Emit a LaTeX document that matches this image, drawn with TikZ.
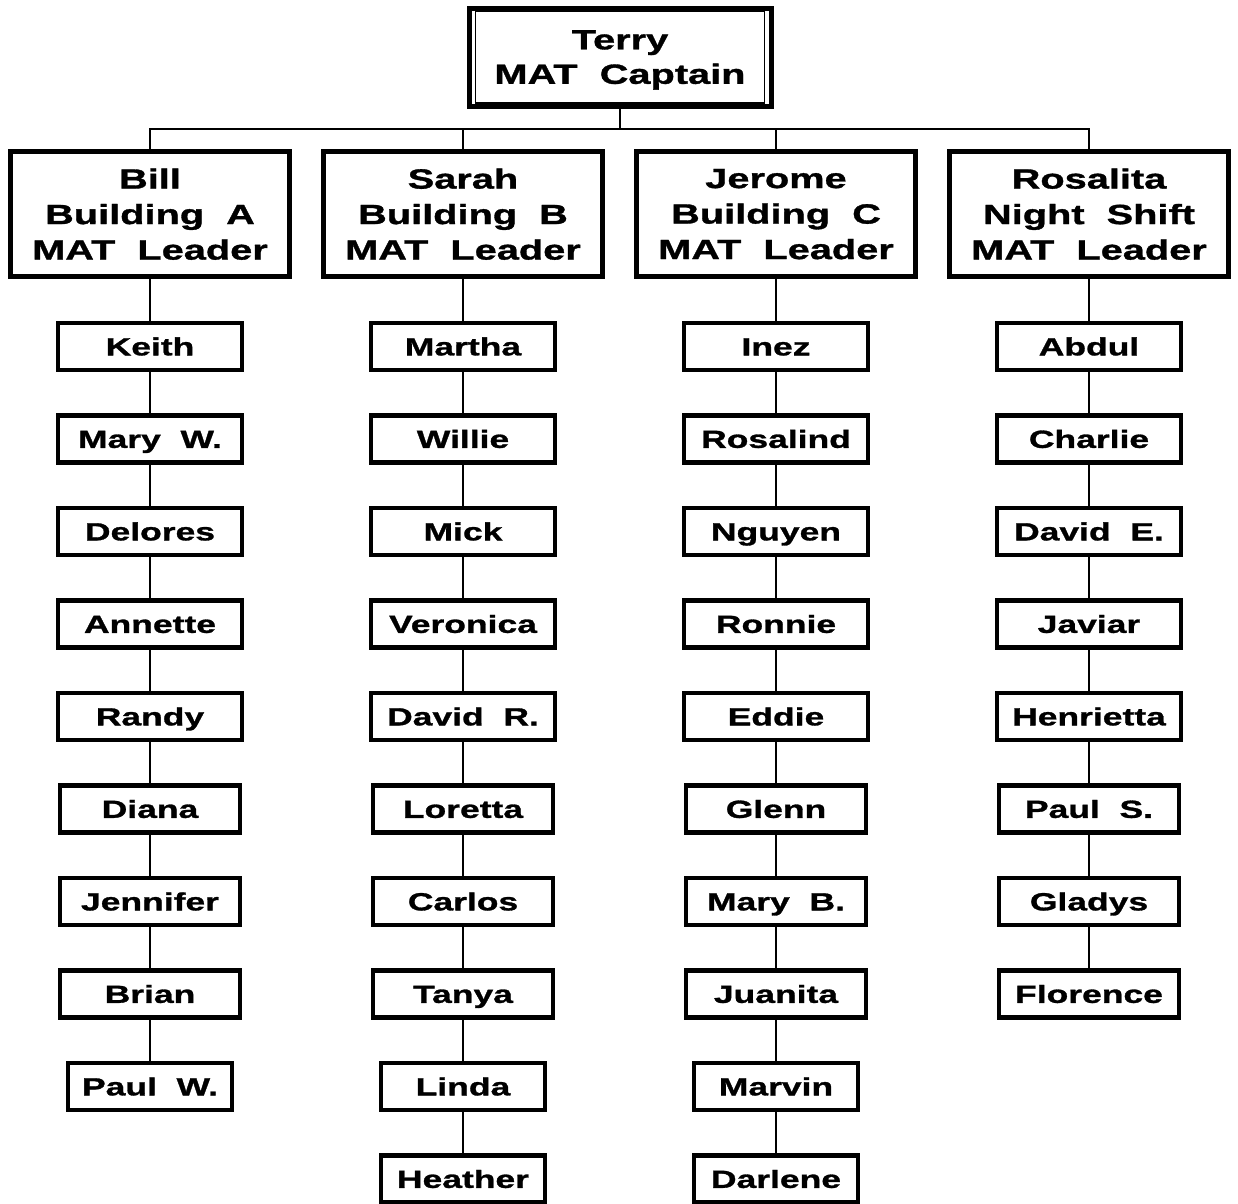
\documentclass[tikz,border=0pt]{standalone}
\usepackage{fontspec}
\newfontfamily\cf{Liberation Sans}[FakeStretch=1.43,WordSpace=2.0,FakeBold=1.2]
\newcommand\stk[1]{\vbox{\halign{\hfil##\hfil\cr#1\crcr}}}
\tikzset{
  conn/.style={line width=1.3pt},
  captbox/.style={draw, line width=5pt, minimum width=302pt, minimum height=98pt, inner sep=0pt,
    text depth=0pt, font={\cf\bfseries\fontsize{27.8}{34.5}\selectfont}},
  leadbox/.style={draw, line width=5.5pt, minimum width=279pt, minimum height=125pt, inner sep=0pt,
    text depth=0pt, font={\cf\bfseries\fontsize{27.8}{35.5}\selectfont}},
  membox/.style={draw, line width=4.3pt, minimum height=47pt, inner sep=0pt,
    text height=17.7pt, text depth=0pt, font={\cf\bfseries\fontsize{24.8}{30}\selectfont}},
}
\begin{document}
\begin{tikzpicture}[x=1pt,y=-1pt]
\useasboundingbox (0,0) rectangle (1238,1203);
% captain
\node[captbox] (capt) at (620,57) {\stk{Terry\cr MAT Captain}};
\draw[line width=1.3pt] ([xshift=9pt,yshift=-5.5pt]capt.north west) rectangle ([xshift=-9pt,yshift=5.5pt]capt.south east);
\coordinate (bus) at (620,129);
% leaders
\node[leadbox] (L1) at (150,214) {\stk{Bill\cr Building A\cr MAT Leader}};
\node[leadbox] (L2) at (463,214) {\stk{Sarah\cr Building B\cr MAT Leader}};
\node[leadbox] (L3) at (776,214) {\stk{Jerome\cr Building C\cr MAT Leader}};
\node[leadbox] (L4) at (1089,214) {\stk{Rosalita\cr Night Shift\cr MAT Leader}};
\draw[conn] (capt.south) -- (bus);
\draw[conn] (L1.north) -- (L1.north |- bus) -- (L4.north |- bus) -- (L4.north);
\draw[conn] (L2.north) -- (L2.north |- bus);
\draw[conn] (L3.north) -- (L3.north |- bus);
% members
\foreach \c/\x/\lst in {
  1/150/{Keith,Mary W.,Delores,Annette,Randy,Diana,Jennifer,Brian,Paul W.},
  2/463/{Martha,Willie,Mick,Veronica,David R.,Loretta,Carlos,Tanya,Linda,Heather},
  3/776/{Inez,Rosalind,Nguyen,Ronnie,Eddie,Glenn,Mary B.,Juanita,Marvin,Darlene},
  4/1089/{Abdul,Charlie,David E.,Javiar,Henrietta,Paul S.,Gladys,Florence}}{
  \foreach \n [count=\i] in \lst {
    \pgfmathsetmacro\w{\i<6 ? 184 : (\i<9 ? 180 : 164)}
    \pgfmathsetmacro\yy{346.5+92.5*(\i-1)}
    \node[membox, minimum width=\w pt] (M\c-\i) at (\x,\yy) {\n};
    \ifnum\i=1
      \draw[conn] (L\c.south) -- (M\c-\i.north);
    \else
      \pgfmathtruncatemacro\p{\i-1}
      \draw[conn] (M\c-\p.south) -- (M\c-\i.north);
    \fi
  }
}
\end{tikzpicture}
\end{document}
